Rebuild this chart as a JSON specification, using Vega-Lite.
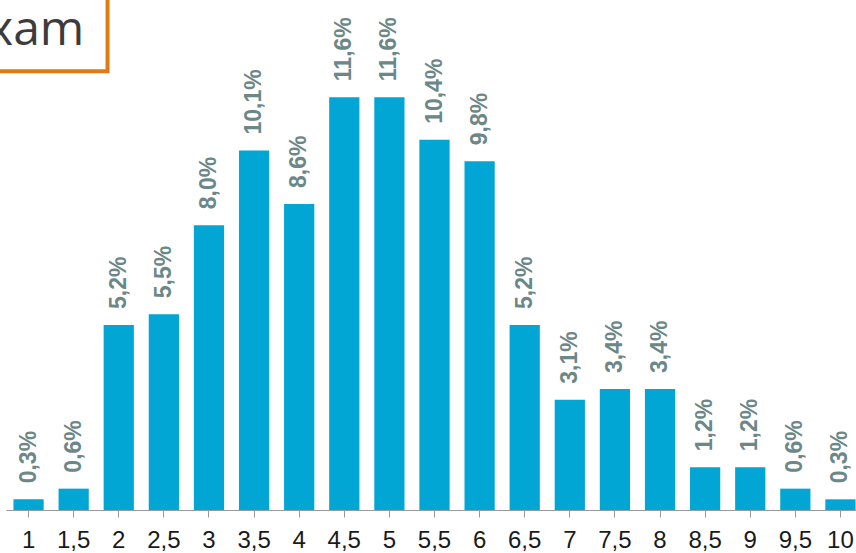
{
  "$schema": "https://vega.github.io/schema/vega-lite/v6.json",
  "autosize": {"type": "none"},
  "padding": {"left": 6, "top": 0, "right": 0, "bottom": 43},
  "width": 850,
  "height": 510,
  "background": "white",
  "config": {"view": {"stroke": null}},
  "data": {
    "values": [
      {"grade": "1", "pct": 0.3, "label": "0,3%"},
      {"grade": "1,5", "pct": 0.6, "label": "0,6%"},
      {"grade": "2", "pct": 5.2, "label": "5,2%"},
      {"grade": "2,5", "pct": 5.5, "label": "5,5%"},
      {"grade": "3", "pct": 8.0, "label": "8,0%"},
      {"grade": "3,5", "pct": 10.1, "label": "10,1%"},
      {"grade": "4", "pct": 8.6, "label": "8,6%"},
      {"grade": "4,5", "pct": 11.6, "label": "11,6%"},
      {"grade": "5", "pct": 11.6, "label": "11,6%"},
      {"grade": "5,5", "pct": 10.4, "label": "10,4%"},
      {"grade": "6", "pct": 9.8, "label": "9,8%"},
      {"grade": "6,5", "pct": 5.2, "label": "5,2%"},
      {"grade": "7", "pct": 3.1, "label": "3,1%"},
      {"grade": "7,5", "pct": 3.4, "label": "3,4%"},
      {"grade": "8", "pct": 3.4, "label": "3,4%"},
      {"grade": "8,5", "pct": 1.2, "label": "1,2%"},
      {"grade": "9", "pct": 1.2, "label": "1,2%"},
      {"grade": "9,5", "pct": 0.6, "label": "0,6%"},
      {"grade": "10", "pct": 0.3, "label": "0,3%"}
    ]
  },
  "resolve": {"scale": {"x": "independent"}, "axis": {"x": "independent"}},
  "layer": [
    {
      "encoding": {
        "x": {
          "field": "grade", "type": "nominal", "sort": null,
          "scale": {"paddingInner": 0.33, "paddingOuter": 0.165, "range": [0, 857]},
          "axis": {
            "title": null, "labelAngle": 0, "labelFont": "Liberation Sans",
            "labelFontSize": 24, "labelColor": "#1a1a1a", "labelPadding": 11,
            "domainColor": "#9a9a9a", "tickColor": "#9a9a9a", "tickSize": 7,
            "grid": false
          }
        },
        "y": {
          "field": "pct", "type": "quantitative",
          "scale": {"domain": [0, 14.33], "nice": false, "zero": true},
          "axis": null
        }
      },
      "layer": [
        {"mark": {"type": "bar", "color": "#02a6d5"}},
        {
          "mark": {
            "type": "text", "angle": 270, "align": "left", "baseline": "middle",
            "dx": 16, "font": "Liberation Sans", "fontWeight": "bold",
            "fontSize": 23, "color": "#6b8787"
          },
          "encoding": {"text": {"field": "label"}}
        }
      ]
    },
    {
      "data": {"values": [{"caption": "Exam"}]},
      "layer": [
        {
          "mark": {"type": "rect", "fill": "white", "stroke": "#e27a14", "strokeWidth": 4},
          "encoding": {
            "x": {"datum": -1, "type": "quantitative", "scale": {"domain": [0, 19]}, "axis": null},
            "x2": {"datum": 2.27},
            "y": {"datum": 16},
            "y2": {"datum": 12.33}
          }
        },
        {
          "mark": {
            "type": "text", "align": "right", "baseline": "alphabetic",
            "font": "Open Sans", "fontSize": 48, "color": "#3c3c3c"
          },
          "encoding": {
            "x": {"datum": 1.75, "type": "quantitative", "scale": {"domain": [0, 19]}, "axis": null},
            "y": {"datum": 13.07},
            "text": {"field": "caption"}
          }
        }
      ]
    }
  ]
}
